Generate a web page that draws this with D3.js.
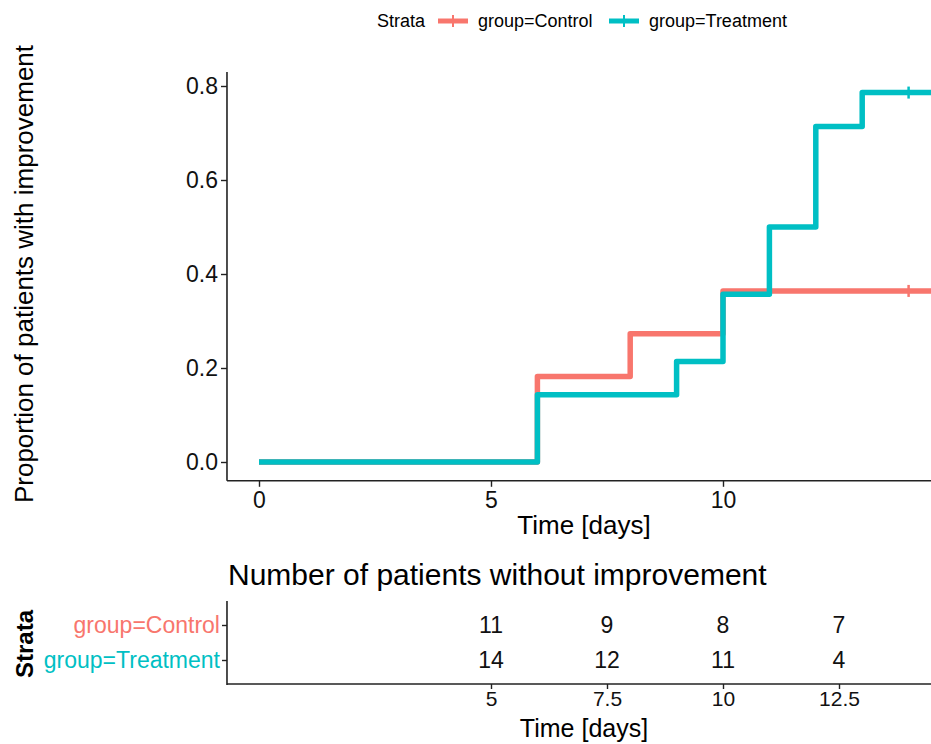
<!DOCTYPE html>
<html>
<head>
<meta charset="utf-8">
<script src="https://cdn.jsdelivr.net/npm/d3@7"></script>
<style>
  body { margin: 0; background: #fff; }
  svg { display: block; font-family: "Liberation Sans", Arial, sans-serif; }
</style>
</head>
<body>
<svg id="chart"></svg>
<script>
// step data: time of each step and proportion reached
var groups = ["group=Control", "group=Treatment"];
var colors = ["#F8766D", "#00BFC4"];
var controlTimes = [0, 6, 8, 10, 14.6];
var controlProps = [0, 0.182, 0.273, 0.364, 0.364];
var treatTimes = [0, 6, 9, 10, 11, 12, 13, 14.6];
var treatProps = [0, 0.143, 0.214, 0.357, 0.5, 0.714, 0.786, 0.786];
var censorTimes = [14, 14];
var censorProps = [0.364, 0.786];
var yTicks = [0, 0.2, 0.4, 0.6, 0.8];
var xTicks = [0, 5, 10];
var riskTimes = [5, 7.5, 10, 12.5];
var riskControl = [11, 9, 8, 7];
var riskTreatment = [14, 12, 11, 4];

var width = 931, height = 744;
var svg = d3.select("#chart").attr("width", width).attr("height", height);

var x = d3.scaleLinear().domain([0, 10]).range([259, 723]);
var y = d3.scaleLinear().domain([0, 0.8]).range([462, 86]);
var axisLeftX = x(-0.69);

function styleAxis(g, fontSize) {
    g.select(".domain").remove();
    g.selectAll(".tick line").attr("stroke", "#222").attr("stroke-width", 1.4);
    g.selectAll(".tick text").attr("font-size", fontSize).attr("fill", "#111")
        .attr("font-family", "Liberation Sans, Arial");
}

// ---- legend
var legend = svg.append("g").attr("transform", "translate(0,21)");
legend.append("text").attr("x", 377).attr("y", 6).attr("font-size", 18).text("Strata");
var legX = [438, 609];
groups.forEach(function(g, i) {
    legend.append("line").attr("x1", legX[i]).attr("x2", legX[i] + 30)
        .attr("stroke", colors[i]).attr("stroke-width", 5);
    legend.append("line").attr("x1", legX[i] + 15).attr("x2", legX[i] + 15)
        .attr("y1", -6).attr("y2", 6).attr("stroke", colors[i]).attr("stroke-width", 2);
    legend.append("text").attr("x", legX[i] + 40).attr("y", 6).attr("font-size", 18).text(g);
});

// ---- main plot axes
var yAxis = svg.append("g").attr("transform", "translate(" + axisLeftX + ",0)")
    .call(d3.axisLeft(y).tickValues(yTicks).tickFormat(d3.format(".1f")).tickSize(6).tickPadding(3));
styleAxis(yAxis, 23);
yAxis.append("line").attr("y1", y(-0.04)).attr("y2", y(0.83)).attr("stroke", "#222").attr("stroke-width", 1.6);

var xAxis = svg.append("g").attr("transform", "translate(0," + y(-0.04) + ")")
    .call(d3.axisBottom(x).tickValues(xTicks).tickSize(6).tickPadding(3));
styleAxis(xAxis, 23);
xAxis.selectAll(".tick text").attr("dy", "0.8em");
xAxis.append("line").attr("x1", axisLeftX).attr("x2", width).attr("stroke", "#222").attr("stroke-width", 1.6);

svg.append("text").attr("x", 584).attr("y", 534).attr("text-anchor", "middle")
    .attr("font-size", 26).text("Time [days]");
svg.append("text").attr("transform", "translate(33,274) rotate(-90)")
    .attr("text-anchor", "middle").attr("font-size", 26).text("Proportion of patients with improvement");

// ---- step curves
var line = d3.line().curve(d3.curveStepAfter)
    .x(function(d) { return x(d[0]); })
    .y(function(d) { return y(d[1]); });

var series = [d3.zip(controlTimes, controlProps), d3.zip(treatTimes, treatProps)];
series.forEach(function(s, i) {
    svg.append("path").attr("d", line(s)).attr("fill", "none")
        .attr("stroke", colors[i]).attr("stroke-width", 5.5).attr("stroke-linejoin", "round");
});
censorTimes.forEach(function(t, i) {
    svg.append("line").attr("x1", x(t)).attr("x2", x(t))
        .attr("y1", y(censorProps[i]) - 6).attr("y2", y(censorProps[i]) + 6)
        .attr("stroke", colors[i]).attr("stroke-width", 2.5);
});

// ---- risk table
svg.append("text").attr("x", 228).attr("y", 585).attr("font-size", 30)
    .text("Number of patients without improvement");

var ry = d3.scalePoint().domain(groups).range([625, 660]);
var rAxis = svg.append("g").attr("transform", "translate(" + axisLeftX + ",0)")
    .call(d3.axisLeft(ry).tickSize(5).tickPadding(2));
styleAxis(rAxis, 23);
rAxis.selectAll(".tick text").attr("fill", function(d, i) { return colors[i]; });
rAxis.append("line").attr("y1", 601).attr("y2", 685).attr("stroke", "#222").attr("stroke-width", 1.6);

var rx = svg.append("g").attr("transform", "translate(0,684)")
    .call(d3.axisBottom(x).tickValues(riskTimes).tickFormat(d3.format("")).tickSize(5).tickPadding(2));
styleAxis(rx, 21);
rx.selectAll(".tick text").attr("dy", "0.7em");
rx.append("line").attr("x1", axisLeftX).attr("x2", width).attr("stroke", "#222").attr("stroke-width", 1.6);

[riskControl, riskTreatment].forEach(function(vals, i) {
    svg.selectAll(null).data(vals).enter().append("text")
        .attr("x", function(d, j) { return x(riskTimes[j]); })
        .attr("y", ry(groups[i])).attr("dy", "0.36em")
        .attr("text-anchor", "middle").attr("font-size", 23).attr("fill", "#111")
        .text(function(d) { return d; });
});

svg.append("text").attr("x", 584).attr("y", 737).attr("text-anchor", "middle")
    .attr("font-size", 25).text("Time [days]");
svg.append("text").attr("transform", "translate(33,644) rotate(-90)")
    .attr("text-anchor", "middle").attr("font-size", 24).attr("font-weight", "bold").text("Strata");
</script>
</body>
</html>
